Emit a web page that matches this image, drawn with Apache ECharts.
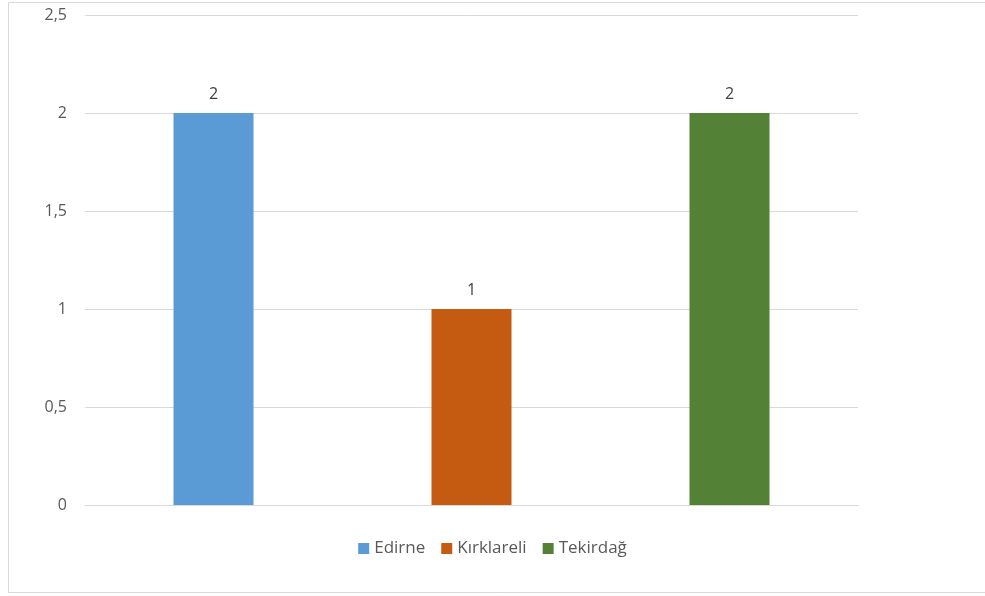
<!DOCTYPE html>
<html><head><meta charset="utf-8">
<script src="https://cdn.jsdelivr.net/npm/echarts@6/dist/echarts.min.js"></script>
<style>html,body{margin:0;padding:0;background:#fff}#c{width:985px;height:596px}</style>
</head><body><div id="c"></div>
<script>
const categories = [''];
const seriesNames = ['Edirne', 'Kırklareli', 'Tekirdağ'];
const seriesValues = [[2], [1], [2]];
const seriesColors = ['#5B9BD5', '#C55A11', '#538135'];
const yTicks = [0, 0.5, 1, 1.5, 2, 2.5];

const chart = echarts.init(document.getElementById('c'));
const font = 'Open Sans';
chart.setOption({
  animation: false,
  graphic: [{type:'rect', shape:{x:8.5,y:2.5,width:1000,height:590}, style:{fill:'none',stroke:'#d9d9d9',lineWidth:1}, silent:true}],
  grid: {left:85, right:127, top:15, bottom:91},
  legend: {
    top: 535, left: 'center', itemWidth: 11, itemHeight: 11, itemGap: 16,
    icon: 'rect',
    textStyle: {color:'#595959', fontSize:17, fontFamily:font, padding:[0,0,0,0]},
    data: seriesNames
  },
  xAxis: {type:'category', data: categories, axisLine:{lineStyle:{color:'#d9d9d9'}}, axisTick:{show:false}, axisLabel:{show:false}},
  yAxis: {type:'value', min:0, max:2.5, interval:0.5,
    axisLine:{show:false}, axisTick:{show:false},
    splitLine:{lineStyle:{color:'#d9d9d9', width:1}},
    axisLabel:{color:'#595959', fontSize:16, fontFamily:font, margin:18,
      formatter: v => String(v).replace('.', ',')}
  },
  series: seriesNames.map((n,i) => ({
    name:n, type:'bar', data: seriesValues[i], barWidth:80, barGap:'222.5%',
    itemStyle:{color:seriesColors[i]},
    label:{show:true, position:'top', distance:11, color:'#404040', fontSize:16, fontFamily:font}
  }))
});
</script></body></html>
